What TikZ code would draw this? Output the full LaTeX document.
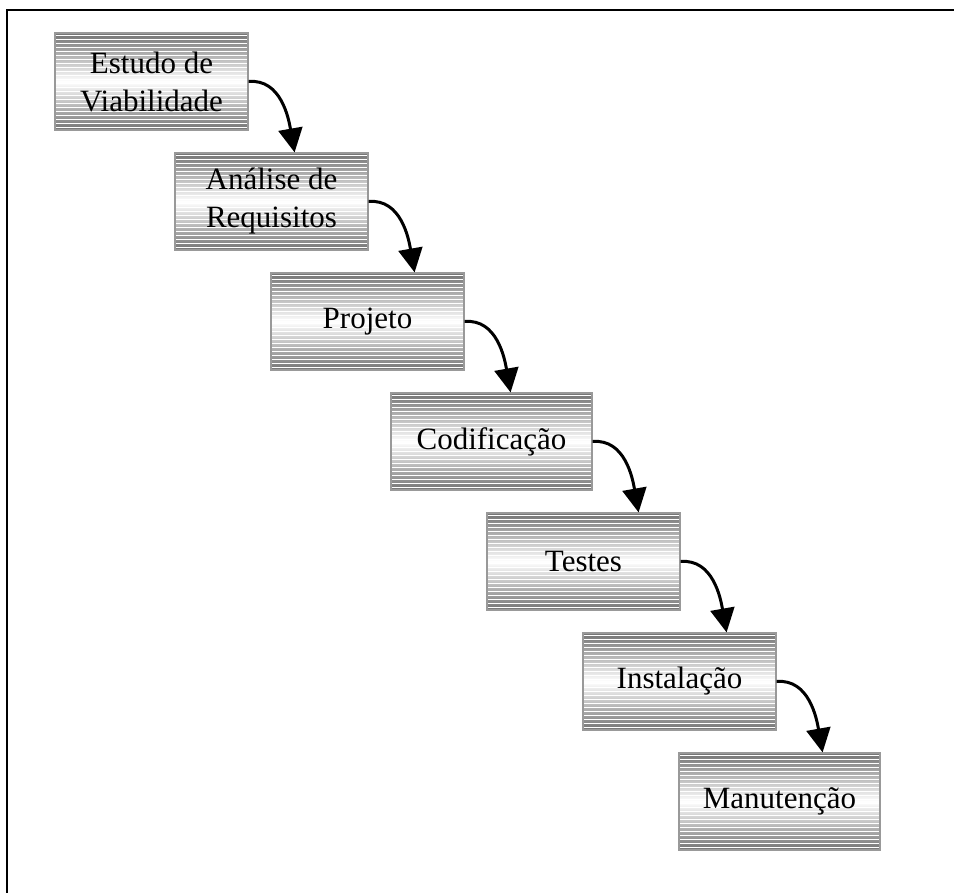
\documentclass[tikz,border=0pt]{standalone}
\usepackage{fontspec}
\setmainfont{Liberation Serif}
\usetikzlibrary{arrows.meta,positioning}
\tikzset{font=\fontsize{31}{38}\selectfont}
\tikzset{fase/.style={draw=gray!80, line width=1.2pt, minimum height=97pt,
    inner sep=0pt, align=center,
    top color=gray!90!black, bottom color=gray!90!black, middle color=white,
    path picture={\foreach \k in {3,7,...,95}
      \draw[white, line width=0.9pt]
        ([yshift=\k pt]path picture bounding box.south west) --
        ([yshift=\k pt]path picture bounding box.south east);}}}
\tikzset{seta/.style={line width=3pt, -{Triangle[length=24pt,width=24pt]}}}

\begin{document}
\begin{tikzpicture}[x=1pt,y=-1pt]
  \useasboundingbox (0,0) rectangle (954,893);
  \draw[line width=2pt] (7,893) -- (7,10) -- (954,10);
  \foreach \n/\x/\y/\w/\t in {1/151.5/81.5/193/{Estudo de\\Viabilidade},
      2/271.5/201.5/193/{Análise de\\Requisitos},
      3/367.5/321.5/193/Projeto,
      4/491.5/441.5/201/Codificação,
      5/583.5/561.5/193/Testes,
      6/679.5/681.5/193/Instalação,
      7/779.5/801.5/201/Manutenção}
    \node[fase, minimum width=\w pt] (f\n) at (\x,\y) {\t};
  \foreach \i/\j in {1/2,2/3,3/4,4/5,5/6,6/7}
    \draw[seta] (f\i.east) to[out=5,in=100] ([xshift=46pt]f\i.east |- f\j.north);
\end{tikzpicture}
\end{document}
